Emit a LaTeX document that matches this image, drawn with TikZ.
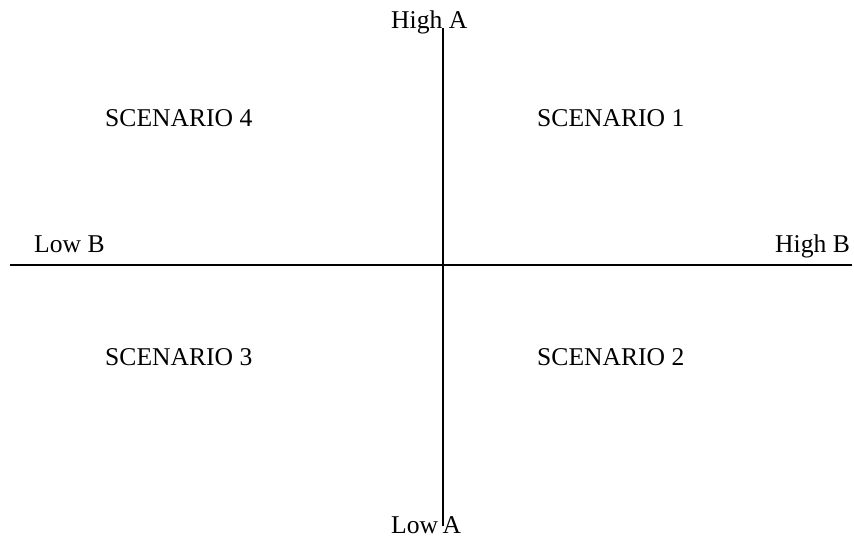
\documentclass[tikz,border=0pt]{standalone}
\usepackage{fontspec}
\setmainfont{Liberation Serif}
\begin{document}
\begin{tikzpicture}[x=1pt,y=-1pt,
  lbl/.style={inner sep=0pt,anchor=base west,font=\fontsize{25.6}{30}\selectfont},
  axis/.style={line width=1.8pt}]
\useasboundingbox (0,0) rectangle (854,546);
\coordinate (top) at (443,28);
\coordinate (bot) at (443,526);
\coordinate (left) at (10,265);
\coordinate (right) at (852,265);
\draw[axis] (top) -- (bot);
\draw[axis] (left) -- (right);
\node[lbl] (ha) at (391,28) {High A};
\node[lbl] (la) at (391,533) {Low\hspace{0.18em}A};
\node[lbl] (lb) at (34,252) {Low B};
\node[lbl] (hb) at (775,252) {High B};
\node[lbl] (s4) at (105,126) {SCENARIO 4};
\node[lbl] (s1) at (537,126) {SCENARIO 1};
\node[lbl] (s3) at (105,365) {SCENARIO 3};
\node[lbl] (s2) at (537,365) {SCENARIO 2};
\end{tikzpicture}
\end{document}
